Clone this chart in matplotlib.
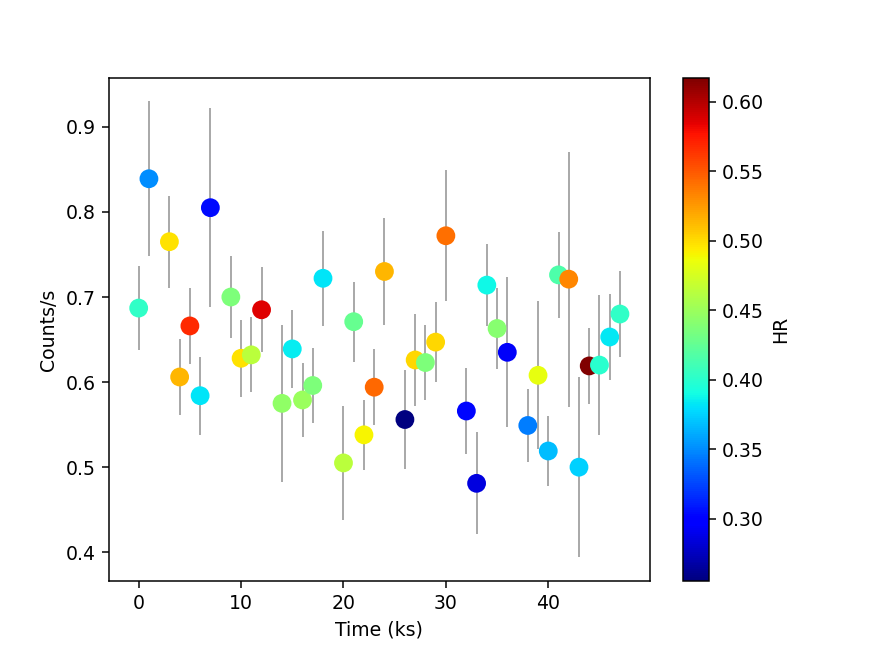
import numpy as np
import matplotlib
matplotlib.use('Agg')
import matplotlib.pyplot as plt

# light curve bins (ks), count rate, 1-sigma error, hardness ratio
time = [0, 1, 3, 4, 5, 6, 7, 9, 10, 11, 12, 14, 15, 16, 17, 18, 20, 21, 22, 23,
        24, 26, 27, 28, 29, 30, 32, 33, 34, 35, 36, 38, 39, 40, 41, 42, 43, 44,
        45, 46, 47]
rate = [0.687, 0.839, 0.765, 0.606, 0.666, 0.584, 0.805, 0.700, 0.628, 0.632,
        0.685, 0.575, 0.639, 0.579, 0.596, 0.722, 0.505, 0.671, 0.538, 0.594,
        0.730, 0.556, 0.626, 0.623, 0.647, 0.772, 0.566, 0.481, 0.714, 0.663,
        0.635, 0.549, 0.608, 0.519, 0.726, 0.721, 0.500, 0.619, 0.620, 0.653,
        0.680]
err = [0.049, 0.091, 0.054, 0.045, 0.045, 0.046, 0.117, 0.048, 0.045, 0.044,
       0.050, 0.092, 0.046, 0.043, 0.044, 0.056, 0.067, 0.047, 0.041, 0.045,
       0.063, 0.058, 0.054, 0.044, 0.047, 0.077, 0.050, 0.060, 0.048, 0.048,
       0.088, 0.043, 0.087, 0.041, 0.051, 0.150, 0.106, 0.045, 0.082, 0.050,
       0.051]
hr = [0.403, 0.350, 0.498, 0.515, 0.568, 0.381, 0.304, 0.436, 0.498, 0.464,
      0.587, 0.445, 0.385, 0.450, 0.436, 0.381, 0.464, 0.427, 0.490, 0.544,
      0.515, 0.255, 0.502, 0.436, 0.502, 0.542, 0.302, 0.285, 0.389, 0.441,
      0.294, 0.345, 0.484, 0.368, 0.416, 0.533, 0.374, 0.617, 0.400, 0.383,
      0.403]

fig = plt.figure(figsize=(872 / 136, 653 / 136), dpi=136)
plt.errorbar(time, rate, yerr=err, fmt='none', ecolor='grey', elinewidth=1, alpha=0.7, zorder=1)
sc = plt.scatter(time, rate, c=hr, cmap='jet', s=80, zorder=2)
cb = plt.colorbar(sc)
cb.set_label('HR')
plt.xlim(-2.9, 49.9)
plt.ylim(0.366, 0.957)
plt.xlabel('Time (ks)')
plt.ylabel('Counts/s')
plt.savefig('out.png', dpi=136)
